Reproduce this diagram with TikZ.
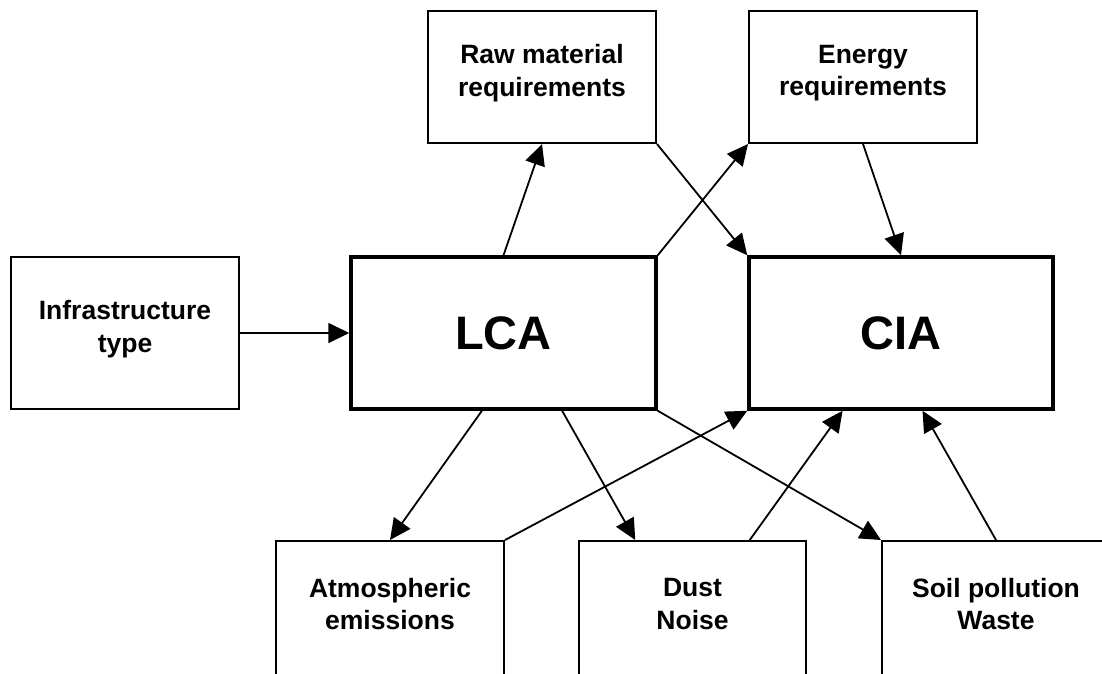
\documentclass[tikz,border=0pt]{standalone}
\usepackage{fontspec}
\setmainfont{Liberation Sans}
\usetikzlibrary{arrows.meta, calc}

\begin{document}
\begin{tikzpicture}[x=1pt, y=-1pt, >={Triangle[length=21pt, width=20pt]}]
    \tikzstyle{box}=[draw, line width=2pt, minimum width=228pt, minimum height=133pt, inner sep=0pt]
    \tikzstyle{main}=[draw, line width=3.5pt, minimum width=305pt, minimum height=152pt, font=\bfseries\fontsize{47}{56}\selectfont]
    \tikzstyle{txt}=[align=center, inner sep=0pt, yshift=4pt, font=\bfseries\fontsize{26.5}{32.5}\selectfont]
    \tikzstyle{arr}=[->, line width=1.8pt]

    \useasboundingbox (0,0) rectangle (1102,673);
    \clip (0,0) rectangle (1102,673);

    \node[main] (lca) at (503.5,333) {LCA};
    \node[main, minimum width=304pt] (cia) at (901,333) {CIA};
    \node[box, minimum height=152pt, label={[txt]center:Infrastructure\\type}] (infra) at (125,333) {};
    \node[box, minimum height=132pt, label={[txt]center:Raw material\\requirements}] (raw) at (542,77) {};
    \node[box, minimum height=132pt, label={[txt]center:Energy\\requirements}] (energy) at (863,77) {};
    \node[box, minimum height=134pt, label={[txt]center:Atmospheric\\emissions}] (atm) at (390,608) {};
    \node[box, minimum height=134pt, minimum width=227pt, label={[txt]center:Dust\\Noise}] (dust) at (692.5,608) {};
    \node[box, minimum height=134pt, label={[txt]center:Soil pollution\\Waste}] (soil) at (996,608) {};

    \draw[arr] (infra.east) -- (lca.west);
    \draw[arr] (lca.north) -- (raw.south);
    \draw[arr] (lca.north east) -- (energy.south west);
    \draw[arr] (raw.south east) -- (cia.north west);
    \draw[arr] (energy.south) -- (cia.north);
    \draw[arr] ($(lca.south west)!.43!(lca.south east)$) -- (atm.north);
    \draw[arr] ($(lca.south west)!.69!(lca.south east)$) -- ($(dust.north west)!.25!(dust.north east)$);
    \draw[arr] (lca.south east) -- (soil.north west);
    \draw[arr] (atm.north east) -- (cia.south west);
    \draw[arr] ($(dust.north west)!.75!(dust.north east)$) -- ($(cia.south west)!.31!(cia.south east)$);
    \draw[arr] (soil.north) -- ($(cia.south west)!.57!(cia.south east)$);
\end{tikzpicture}
\end{document}
